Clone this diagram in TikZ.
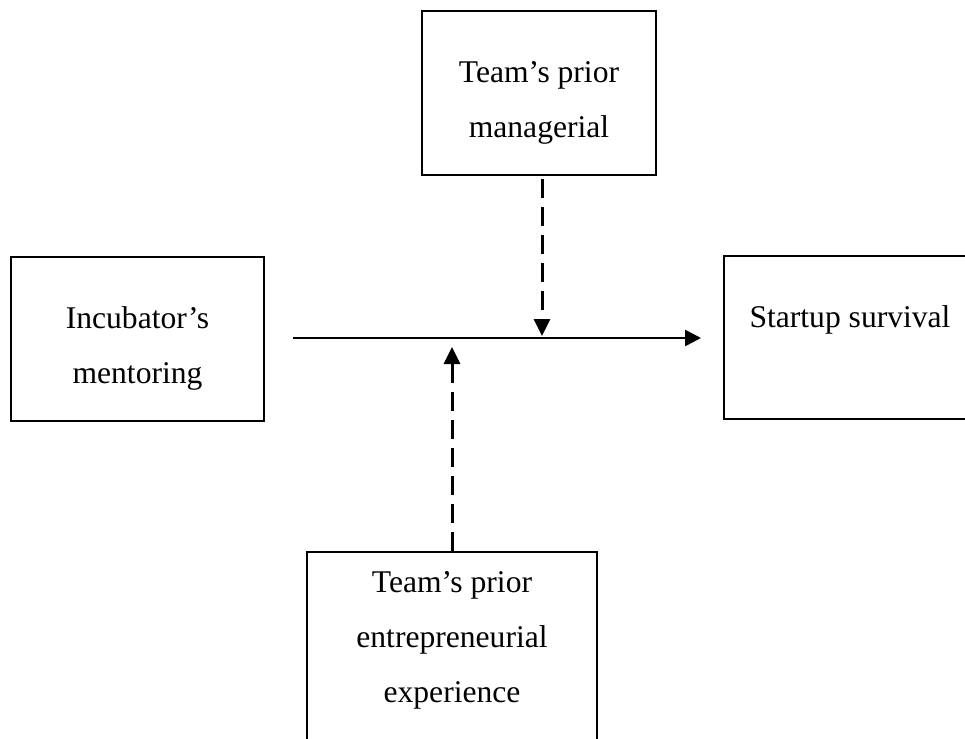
\documentclass[tikz,border=0pt]{standalone}
\usepackage{fontspec}
\setmainfont{Liberation Serif}
\usetikzlibrary{arrows.meta}
\begin{document}
\begin{tikzpicture}[x=1pt,y=-1pt,
  box/.style={draw, line width=2pt, inner sep=0pt},
  lbl/.style={align=center, inner sep=0pt, font=\fontsize{31.6}{55}\selectfont},
  flow/.style={line width=2.6pt, -{Triangle[length=16pt,width=16pt]}},
  moderate/.style={line width=3pt, dash pattern=on 19pt off 9pt,
    -{Triangle[length=17pt,width=16pt]}}]
\useasboundingbox (0,0) rectangle (965,738);
\clip (0,0) rectangle (965,738);

% frames
\node[box, minimum width=253pt, minimum height=164pt] (inc) at (137.5,339) {};
\node[box, minimum width=234pt, minimum height=164pt] (mgr) at (539,93) {};
\node[box, minimum width=276pt, minimum height=163pt] (out) at (862,337.5) {};
\node[box, minimum width=290pt, minimum height=248pt] (ent) at (452,676) {};

% captions (base anchor sits on the last line)
\node[lbl, anchor=base] (inc-t) at (137.5,383) {Incubator’s\\mentoring};
\node[lbl, anchor=base] (mgr-t) at (539,138) {Team’s prior\\managerial};
\node[lbl, anchor=base] (out-t) at (850,327) {Startup survival};
\node[lbl, anchor=base] (ent-t) at (452,702) {Team’s prior\\entrepreneurial\\experience};

% main effect
\coordinate (src) at ([xshift=28pt,yshift=1pt]inc.east);
\coordinate (dst) at ([xshift=-22pt,yshift=-0.5pt]out.west);
\draw[flow] (src) -- (dst);

% moderators
\coordinate (hit1) at (542,336);
\coordinate (hit2) at (452,347);
\draw[moderate] ([xshift=3pt,yshift=-3pt]mgr.south) -- (hit1);
\draw[moderate] (ent.north) -- (hit2);
\end{tikzpicture}
\end{document}
